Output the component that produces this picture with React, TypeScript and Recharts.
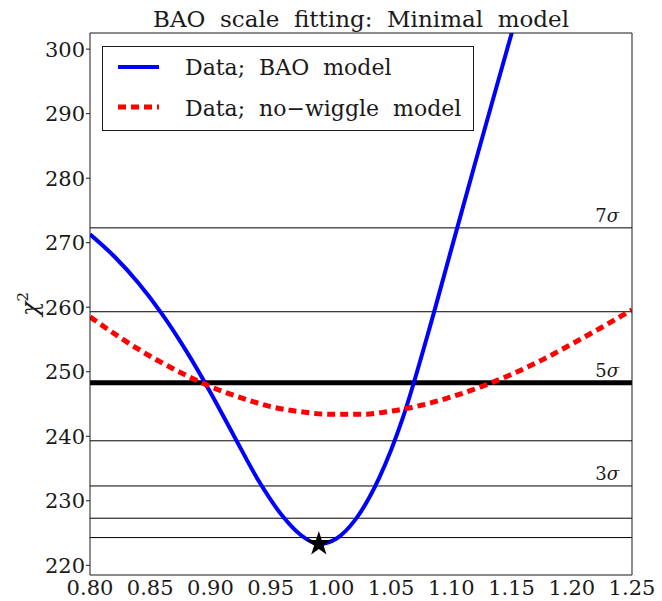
import {
  ComposedChart,
  Line,
  Scatter,
  XAxis,
  YAxis,
  ZAxis,
  ReferenceLine,
} from 'recharts';

const X_TICKS = [0.8, 0.85, 0.9, 0.95, 1.0, 1.05, 1.1, 1.15, 1.2, 1.25];
const Y_TICKS = [220, 230, 240, 250, 260, 270, 280, 290, 300];

// BAO model chi^2 curve
const BAO_ALPHA = [0.8, 0.82, 0.84, 0.86, 0.88, 0.9, 0.92, 0.94, 0.96, 0.975, 0.99, 1.005, 1.02, 1.04, 1.06, 1.08, 1.1, 1.12, 1.14, 1.16];
const BAO_CHI2 = [271.3, 267.9, 263.8, 258.9, 253.2, 246.8, 239.9, 233.1, 227.6, 224.7, 223.3, 224.2, 227.0, 233.5, 243.0, 255.5, 269.0, 282.5, 295.8, 309.0];

// no-wiggle model chi^2 curve
const NW_ALPHA = [0.8, 0.825, 0.85, 0.875, 0.9, 0.925, 0.95, 0.975, 1.0, 1.025, 1.05, 1.075, 1.1, 1.125, 1.15, 1.175, 1.2, 1.225, 1.25];
const NW_CHI2 = [258.5, 255.3, 252.4, 249.9, 247.7, 246.0, 244.6, 243.8, 243.4, 243.4, 243.9, 244.8, 246.1, 247.7, 249.6, 251.8, 254.3, 256.9, 259.6];

// chi2_min + delta chi2 for 1..7 sigma
const SIGMA_LEVELS = [224.3, 227.3, 232.3, 239.3, 248.3, 259.3, 272.3];
const SIGMA_LABELS = ['', '', '3', '', '5', '', '7'];
const THICK_LEVEL = 248.3;

const BEST_FIT = [{ x: 0.99, y: 223.3 }];

const baoData = BAO_ALPHA.map((x, i) => ({ x, y: BAO_CHI2[i] }));
const nwData = NW_ALPHA.map((x, i) => ({ x, y: NW_CHI2[i] }));

const FONT = '"DejaVu Serif", serif';
const INK = '#1a1a1a';

const sigmaLabel = (n: string) => (props: any) => {
  const vb = props.viewBox;
  if (!n || !vb) return null;
  return (
    <text x={vb.x + vb.width - 13} y={vb.y - 6} textAnchor="end" fontFamily={FONT} fontSize={18} fill={INK}>
      {n}
      <tspan fontStyle="italic">σ</tspan>
    </text>
  );
};

export default function App() {
  return (
    <div style={{ position: 'absolute', left: 0, top: 0, width: 662, height: 601, background: '#fff' }}>
      <ComposedChart width={662} height={601} margin={{ top: 33, right: 30, bottom: 0, left: 10 }}>
        <XAxis
          xAxisId="x"
          dataKey="x"
          type="number"
          domain={[0.8, 1.25]}
          ticks={X_TICKS}
          allowDataOverflow
          height={26}
          tickSize={0}
          tickMargin={5}
          tickLine={false}
          axisLine={{ stroke: INK }}
          tickFormatter={(v) => v.toFixed(2)}
          tick={{ fill: INK, fontSize: 21, fontFamily: FONT }}
        />
        <XAxis
          xAxisId="bt"
          dataKey="x"
          type="number"
          orientation="bottom"
          mirror
          domain={[0.8, 1.25]}
          ticks={X_TICKS}
          axisLine={false}
          tickSize={5}
          tickLine={{ stroke: INK }}
          tickFormatter={() => ''}
        />
        <XAxis
          xAxisId="top"
          dataKey="x"
          type="number"
          orientation="top"
          mirror
          domain={[0.8, 1.25]}
          ticks={X_TICKS}
          axisLine={{ stroke: INK }}
          tickSize={5}
          tickLine={{ stroke: INK }}
          tickFormatter={() => ''}
        />
        <YAxis
          yAxisId="y"
          type="number"
          domain={[218.5, 302.5]}
          ticks={Y_TICKS}
          allowDataOverflow
          width={80}
          tickSize={4}
          tickMargin={1}
          axisLine={{ stroke: INK }}
          tickLine={{ stroke: INK }}
          tick={{ fill: INK, fontSize: 21, fontFamily: FONT }}
          label={{
            content: () => (
              <text
                x={38}
                y={304}
                transform="rotate(-90 38 304)"
                textAnchor="middle"
                fontFamily={FONT}
                fontSize={24}
                fill={INK}
              >
                <tspan fontStyle="italic">χ</tspan>
                <tspan fontSize={15} dy={-10}>2</tspan>
              </text>
            ),
          }}
        />
        <YAxis
          yAxisId="right"
          type="number"
          orientation="right"
          mirror
          domain={[218.5, 302.5]}
          ticks={Y_TICKS}
          axisLine={{ stroke: INK }}
          tickSize={5}
          tickLine={{ stroke: INK }}
          tickFormatter={() => ''}
        />
        <ZAxis range={[190, 190]} />
        {SIGMA_LEVELS.map((lv, i) => (
          <ReferenceLine
            key={lv}
            xAxisId="x"
            yAxisId="y"
            y={lv}
            stroke="#000"
            strokeWidth={lv === THICK_LEVEL ? 5 : 1}
            label={sigmaLabel(SIGMA_LABELS[i])}
          />
        ))}
        <Line
          xAxisId="x"
          yAxisId="y"
          data={baoData}
          dataKey="y"
          type="monotone"
          stroke="#0000ff"
          strokeWidth={4}
          dot={false}
          isAnimationActive={false}
        />
        <Line
          xAxisId="x"
          yAxisId="y"
          data={nwData}
          dataKey="y"
          type="monotone"
          stroke="#ff0000"
          strokeWidth={5}
          strokeDasharray="8 5"
          dot={false}
          isAnimationActive={false}
        />
        <Scatter
          xAxisId="x"
          yAxisId="y"
          data={BEST_FIT}
          dataKey="y"
          shape="star"
          fill="#000"
          isAnimationActive={false}
        />
      </ComposedChart>
      <svg width={662} height={601} style={{ position: 'absolute', left: 0, top: 0, pointerEvents: 'none' }}>
        <text x={361} y={27} textAnchor="middle" fontFamily={FONT} fontSize={23} fill={INK} style={{ whiteSpace: 'pre' }}>
          {'BAO  scale  fitting:  Minimal  model'}
        </text>
        <rect x={102.5} y={46.5} width={371} height={84} fill="#fff" stroke={INK} strokeWidth={1} />
        <line x1={118} x2={159} y1={67} y2={67} stroke="#0000ff" strokeWidth={4} />
        <text x={185} y={75} fontFamily={FONT} fontSize={22} fill={INK} style={{ whiteSpace: 'pre' }}>
          {'Data;  BAO  model'}
        </text>
        <line x1={118} x2={159} y1={107} y2={107} stroke="#ff0000" strokeWidth={5} strokeDasharray="8 5" />
        <text x={185} y={116} fontFamily={FONT} fontSize={22} fill={INK} style={{ whiteSpace: 'pre' }}>
          {'Data;  no−wiggle  model'}
        </text>
      </svg>
    </div>
  );
}
